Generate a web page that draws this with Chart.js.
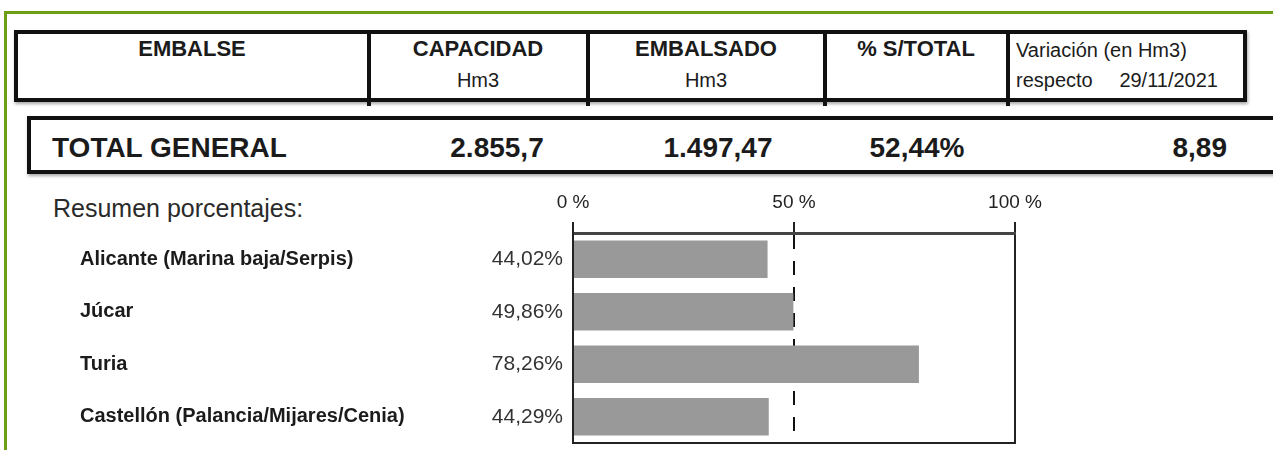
<!DOCTYPE html>
<html lang="es">
<head>
<meta charset="UTF-8">
<title>Embalses - Resumen porcentajes</title>
<script src="https://cdn.jsdelivr.net/npm/chart.js"></script>
<style>
  body { margin:0; background:#fff; font-family:"Liberation Sans", Arial, sans-serif; color:#1b1b1b;
         width:1273px; height:450px; overflow:hidden; position:relative; }
  .frame { position:absolute; left:4px; top:11px; width:1300px; height:480px; border:3px solid #6c9f14; }
  .box { position:absolute; border:4px solid #111; box-shadow:1px 2px 3px rgba(0,0,0,.35); }
  .vline { position:absolute; width:4px; background:#111; }
  .t { position:absolute; line-height:1; white-space:nowrap; }
  .c { transform:translateX(-50%); }
  .h1 { font-size:22px; font-weight:bold; top:38px; }
  .h2 { font-size:20px; top:70px; }
  .tot { font-size:28px; font-weight:bold; top:134px; }
  #chartBox { position:absolute; left:0; top:180px; width:1273px; height:270px; }
</style>
</head>
<body>
<div class="frame"></div>

<!-- cabecera -->
<div class="box" style="left:14px; top:30px; width:1225px; height:64px;"></div>
<div class="vline" style="left:367px; top:30px; height:76px;"></div>
<div class="vline" style="left:586px; top:30px; height:76px;"></div>
<div class="vline" style="left:823px; top:30px; height:76px;"></div>
<div class="vline" style="left:1006px; top:30px; height:76px;"></div>

<div class="t c h1" style="left:192px;">EMBALSE</div>
<div class="t c h1" style="left:478px;">CAPACIDAD</div>
<div class="t c h2" style="left:478px;">Hm3</div>
<div class="t c h1" style="left:706px;">EMBALSADO</div>
<div class="t c h2" style="left:706px;">Hm3</div>
<div class="t c h1" style="left:916px;">% S/TOTAL</div>
<div class="t" style="left:1016px; top:40px; font-size:20px;">Variación (en Hm3)</div>
<div class="t h2" style="left:1016px;">respecto</div>
<div class="t h2" style="right:55px;">29/11/2021</div>

<!-- total -->
<div class="box" style="left:27px; top:116px; width:1250px; height:50px;"></div>
<div class="t tot" style="left:52px;">TOTAL GENERAL</div>
<div class="t c tot" style="left:497px;">2.855,7</div>
<div class="t c tot" style="left:718px;">1.497,47</div>
<div class="t c tot" style="left:917px;">52,44%</div>
<div class="t tot" style="right:46px;">8,89</div>

<div class="t" style="left:53px; top:196px; font-size:25px; color:#2a2a2a;">Resumen porcentajes:</div>

<div id="chartBox"><canvas id="chart"></canvas></div>

<script>
  const embalses = ["Alicante (Marina baja/Serpis)", "Júcar", "Turia", "Castellón (Palancia/Mijares/Cenia)"];
  const porcentajes = [44.02, 49.86, 78.26, 44.29];
  const ejeTicks = [0, 50, 100];

  const fmtPct = v => v.toFixed(2).replace('.', ',') + '%';

  Chart.defaults.font.family = '"Liberation Sans", Arial, sans-serif';

  // marco derecho e inferior del area del grafico
  const marco = {
    id: 'marco',
    afterDatasetsDraw(chart) {
      const { ctx, chartArea: a } = chart;
      ctx.save();
      ctx.strokeStyle = '#222';
      ctx.lineWidth = 2;
      ctx.beginPath();
      ctx.moveTo(a.left, a.bottom);
      ctx.lineTo(a.right, a.bottom);
      ctx.lineTo(a.right, a.top);
      ctx.stroke();
      ctx.restore();
    }
  };

  // ancho fijo de los ejes de la izquierda, sin margen extra arriba/abajo
  const fijarAncho = w => s => { s.width = w; s.paddingTop = 0; s.paddingBottom = 0; };

  new Chart(document.getElementById('chart'), {
    type: 'bar',
    data: {
      labels: embalses,
      datasets: [{
        data: porcentajes,
        backgroundColor: '#999999',
        borderWidth: 0,
        barPercentage: 0.71,
        categoryPercentage: 1
      }]
    },
    options: {
      indexAxis: 'y',
      responsive: true,
      maintainAspectRatio: false,
      animation: false,
      layout: { padding: { left: 80, right: 258, top: 0, bottom: 7 } },
      plugins: { legend: { display: false }, tooltip: { enabled: false } },
      scales: {
        x: {
          position: 'top',
          min: 0,
          max: 100,
          afterBuildTicks: s => { s.ticks = ejeTicks.map(v => ({ value: v })); },
          afterFit: s => { s.height = 53; s.paddingLeft = 0; s.paddingRight = 0; },
          ticks: { callback: v => v + ' %', font: { size: 19 }, color: '#222', padding: 8, maxRotation: 0 },
          grid: {
            color: c => (c.tick && c.tick.value === 50) ? '#111' : 'rgba(0,0,0,0)',
            lineWidth: 2,
            tickColor: '#222',
            tickLength: 11,
            tickWidth: 2
          },
          border: { display: true, color: '#444', width: 3, dash: [14, 12], z: 1 }
        },
        y: {
          position: 'left',
          weight: 0,
          afterFit: fijarAncho(110),
          ticks: { callback: (v, i) => fmtPct(porcentajes[i]), font: { size: 21 }, color: '#333', padding: 10 },
          grid: { display: false, drawTicks: false },
          border: { display: true, color: '#222', width: 2, z: 1 }
        },
        y2: {
          type: 'category',
          position: 'left',
          weight: 1,
          offset: true,
          labels: embalses,
          afterFit: fijarAncho(383),
          ticks: { crossAlign: 'far', font: { size: 20, weight: 'bold' }, color: '#1b1b1b', padding: 0 },
          grid: { display: false, drawTicks: false },
          border: { display: false }
        }
      }
    },
    plugins: [marco]
  });
</script>
</body>
</html>
